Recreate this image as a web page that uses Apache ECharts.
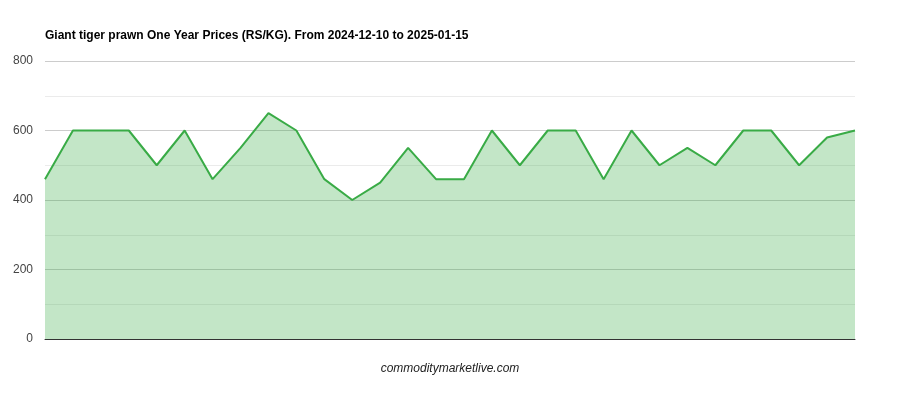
<!DOCTYPE html>
<html>
<head>
<meta charset="utf-8">
<script src="https://cdn.jsdelivr.net/npm/echarts@6/dist/echarts.min.js"></script>
<style>html,body{margin:0;padding:0;background:#fff}#c{width:900px;height:400px}</style>
</head>
<body>
<div id="c"></div>
<script>
var titleText = "Giant tiger prawn One Year Prices (RS/KG). From 2024-12-10 to 2025-01-15";
var footerText = "commoditymarketlive.com";
var categories = [];
for (var i = 1; i <= 30; i++) categories.push("P" + i);
var prices = [460, 600, 600, 600, 500, 600, 460, 550, 650, 600, 460, 400, 450, 550, 460, 460, 600, 500, 600, 600, 460, 600, 500, 550, 500, 600, 600, 500, 580, 600];
var yTicks = [0, 200, 400, 600, 800];

var chart = echarts.init(document.getElementById('c'));
chart.setOption({
  animation: false,
  title: {
    text: titleText,
    left: 40, top: 25,
    textStyle: {fontFamily: 'Liberation Sans, Arial', fontSize: 12, fontWeight: 'bold', color: '#000'}
  },
  graphic: [{
    type: 'text', left: 'center', top: 363,
    style: {text: footerText, font: 'italic 12px "Liberation Sans", Arial', fill: '#222'}
  }],
  grid: {left: 45, right: 45, top: 61, bottom: 61, containLabel: false},
  xAxis: {
    type: 'category', data: categories, boundaryGap: false,
    axisLabel: {show: false}, axisTick: {show: false},
    axisLine: {show: true, lineStyle: {color: '#333', width: 1}},
    splitLine: {show: false}
  },
  yAxis: {
    type: 'value', min: yTicks[0], max: yTicks[yTicks.length - 1], interval: 200,
    axisLine: {show: false}, axisTick: {show: false},
    axisLabel: {fontFamily: 'Liberation Sans, Arial', fontSize: 12, color: '#444', margin: 12},
    splitLine: {show: true, lineStyle: {color: '#cccccc', width: 1}},
    minorTick: {show: false, splitNumber: 2},
    minorSplitLine: {show: true, lineStyle: {color: '#ebebeb', width: 1}}
  },
  series: [{
    type: 'line', data: prices, symbol: 'none',
    lineStyle: {color: '#39ab46', width: 2},
    areaStyle: {color: 'rgba(57,171,70,0.3)', opacity: 1, origin: 'start'},
    z: 1
  }]
});
</script>
</body>
</html>
